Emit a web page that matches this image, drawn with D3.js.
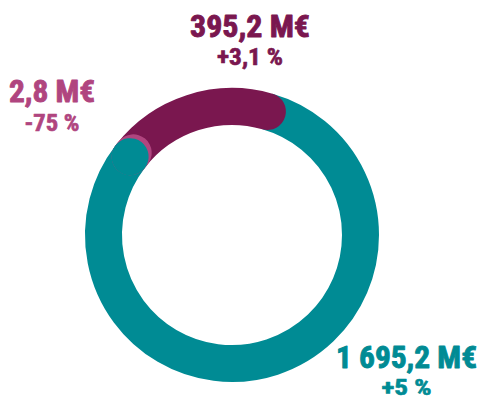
<!DOCTYPE html>
<html><head><meta charset="utf-8">
<script src="https://cdn.jsdelivr.net/npm/d3@7"></script>
<style>
html,body{margin:0;padding:0;background:#fff;}
text{font-family:"Liberation Sans Narrow","Roboto Condensed","DejaVu Sans Condensed","Liberation Sans",sans-serif;font-weight:bold;font-stretch:condensed;}
</style></head>
<body>
<svg id="c" width="481" height="401"></svg>
<script>
// Data (clockwise order starting at the top-right junction)
const categories = ["teal", "pink", "purple"];
const values = [1695.2, 2.8, 395.2];
const valueLabels = ["1 695,2 M€", "2,8 M€", "395,2 M€"];
const changeLabels = ["+5 %", "-75 %", "+3,1 %"];
const colors = ["#008b94", "#b0457f", "#7a174f"];

const svg = d3.select("#c");
const cx = 232, cy = 235, rMid = 128.5, thick = 37;
const deg = Math.PI / 180;
const start = 16 * deg;
const minAngle = 2.2 * deg;

const pie = d3.pie().sort(null).startAngle(start).endAngle(start + 2 * Math.PI);
const arcs = pie(values);

function arcPath(a0, a1) {
  const p = d3.path();
  p.arc(cx, cy, rMid, a0 - Math.PI / 2, a1 - Math.PI / 2, false);
  return p.toString();
}

const g = svg.append("g");
const teal = arcs[0], pink = arcs[1], purple = arcs[2];
g.append("path").attr("d", arcPath(teal.startAngle, teal.endAngle))
  .attr("fill", "none").attr("stroke", colors[0]).attr("stroke-width", thick);
g.append("path").attr("d", arcPath(purple.startAngle, purple.endAngle))
  .attr("fill", "none").attr("stroke", colors[2]).attr("stroke-width", thick).attr("stroke-linecap", "round");
g.append("path").attr("d", arcPath(pink.startAngle, Math.max(pink.endAngle, pink.startAngle + minAngle)))
  .attr("fill", "none").attr("stroke", colors[1]).attr("stroke-width", thick).attr("stroke-linecap", "round");
const te = teal.endAngle;
g.append("path").attr("d", arcPath(te - 0.001, te))
  .attr("fill", "none").attr("stroke", colors[0]).attr("stroke-width", thick).attr("stroke-linecap", "round");

// Labels
const labelPos = [
  {x: 406.5, y1: 368, y2: 395, w1: 141, w2: 50, s2: 22},
  {x: 52, y1: 102, y2: 131, w1: 86, w2: 55, s2: 23},
  {x: 250, y1: 37, y2: 65, w1: 120, w2: 66, s2: 23}
];
categories.forEach((c, i) => {
  const lp = labelPos[i];
  svg.append("text").attr("x", lp.x).attr("y", lp.y1).attr("text-anchor", "middle")
    .attr("font-size", 32).attr("fill", colors[i])
    .attr("stroke", colors[i]).attr("stroke-width", 0.9).attr("stroke-linejoin", "round")
    .attr("textLength", lp.w1).attr("lengthAdjust", "spacingAndGlyphs")
    .text(valueLabels[i]);
  svg.append("text").attr("x", lp.x).attr("y", lp.y2).attr("text-anchor", "middle")
    .attr("font-size", lp.s2).attr("fill", colors[i])
    .attr("stroke", colors[i]).attr("stroke-width", 0.6).attr("stroke-linejoin", "round")
    .attr("textLength", lp.w2).attr("lengthAdjust", "spacingAndGlyphs")
    .text(changeLabels[i]);
});
</script>
</body></html>
